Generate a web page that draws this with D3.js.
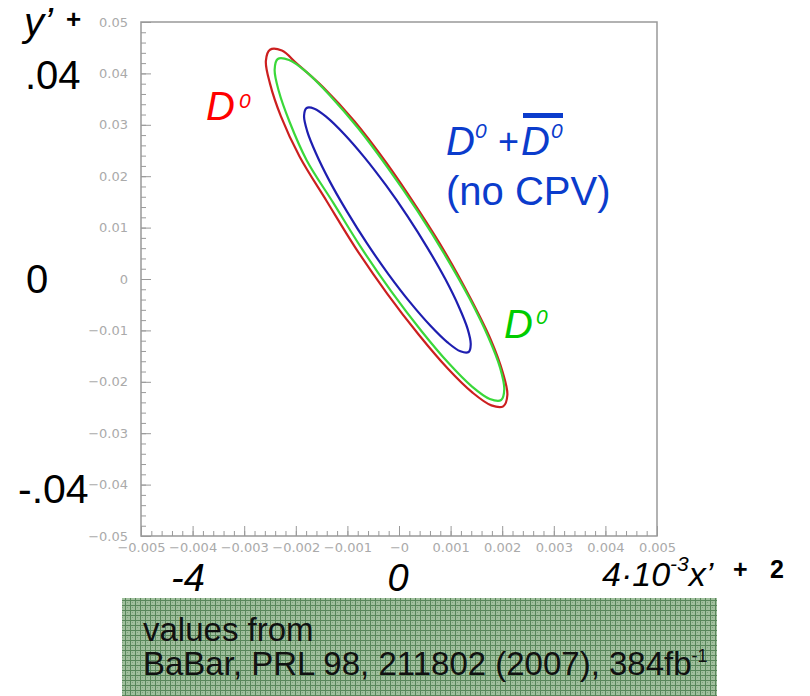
<!DOCTYPE html>
<html lang="en">
<head>
<meta charset="UTF-8">
<title>y' vs x'^2 contours</title>
<script src="https://cdn.jsdelivr.net/npm/d3@7"></script>
<style>
  body, html { margin: 0; padding: 0; background: #fff; }
  .tick text { font-family: "DejaVu Sans", sans-serif; font-size: 13px; fill: #aaa; }
  .tick line { stroke: #999; }
  .big { font-family: "Liberation Sans", Arial, sans-serif; }
</style>
</head>
<body>
<div id="chart"></div>
<script>
// contour points (x'^2, y'), going round each curve
const redX = [0.00202, 0.00210, 0.00201, 0.00178, 0.00140, 0.00092, 0.00035, -0.00025,
              -0.00086, -0.00146, -0.00198, -0.00227, -0.00250, -0.00258, -0.00250, -0.00229,
              -0.00193, -0.00140, -0.00084, -0.00023, 0.00038, 0.00094, 0.00142, 0.00179];
const redY = [-0.02477, -0.02257, -0.01817, -0.01185, -0.00404, 0.00472, 0.01383, 0.02267,
              0.03065, 0.03721, 0.04192, 0.04444, 0.04461, 0.04242, 0.03801, 0.03169,
              0.02389, 0.01513, 0.00602, -0.00283, -0.01080, -0.01737, -0.02207, -0.02459];

const greenX = [0.00198, 0.00204, 0.00196, 0.00173, 0.00137, 0.00090, 0.00036, -0.00022,
                -0.00079, -0.00133, -0.00178, -0.00213, -0.00235, -0.00241, -0.00233, -0.00212,
                -0.00179, -0.00127, -0.00073, -0.00015, 0.00043, 0.00096, 0.00141, 0.00176];
const greenY = [-0.02354, -0.02148, -0.01730, -0.01129, -0.00385, 0.00451, 0.01321, 0.02168,
                0.02932, 0.03562, 0.04015, 0.04260, 0.04280, 0.04074, 0.03657, 0.03055,
                0.02312, 0.01476, 0.00605, -0.00241, -0.01006, -0.01636, -0.02089, -0.02334];

const blueX = [0.00135, 0.00139, 0.00133, 0.00116, 0.00090, 0.00056, 0.00017, -0.00025,
               -0.00067, -0.00106, -0.00139, -0.00164, -0.00179, -0.00184, -0.00178, -0.00161,
               -0.00135, -0.00101, -0.00062, -0.00020, 0.00022, 0.00061, 0.00094, 0.00119];
const blueY = [-0.01420, -0.01272, -0.00971, -0.00540, -0.00007, 0.00592, 0.01215, 0.01820,
               0.02367, 0.02817, 0.03140, 0.03314, 0.03327, 0.03178, 0.02878, 0.02447,
               0.01914, 0.01315, 0.00692, 0.00087, -0.00460, -0.00910, -0.01233, -0.01407];

const xTicks = [-0.005, -0.004, -0.003, -0.002, -0.001, 0, 0.001, 0.002, 0.003, 0.004, 0.005];
const xTickLabels = ["\u22120.005", "\u22120.004", "\u22120.003", "\u22120.002", "\u22120.001", "\u22120",
                     "0.001", "0.002", "0.003", "0.004", "0.005"];
const yTicks = [0.05, 0.04, 0.03, 0.02, 0.01, 0, -0.01, -0.02, -0.03, -0.04, -0.05];
const yTickLabels = ["0.05", "0.04", "0.03", "0.02", "0.01", "0", "\u22120.01", "\u22120.02", "\u22120.03",
                     "\u22120.04", "\u22120.05"];

const contours = [
  { xs: redX, ys: redY, color: "#cc1f1f" },
  { xs: greenX, ys: greenY, color: "#3ad83a" },
  { xs: blueX, ys: blueY, color: "#1e1eb0" }
];

const W = 810, H = 696;
const svg = d3.select("#chart").append("svg").attr("width", W).attr("height", H);

const x = d3.scaleLinear().domain([-0.005, 0.005]).range([141, 657]);
const y = d3.scaleLinear().domain([-0.05, 0.05]).range([536, 22]);

// frame
svg.append("rect")
  .attr("x", x(-0.005)).attr("y", y(0.05))
  .attr("width", x(0.005) - x(-0.005)).attr("height", y(-0.05) - y(0.05))
  .attr("fill", "none").attr("stroke", "#999").attr("stroke-width", 1.5);

// minor ticks
const xMinor = d3.range(-50, 51, 2).map(d => d * 0.0001);
const yMinor = d3.range(-50, 51, 2).map(d => d * 0.001);
svg.append("g").attr("transform", `translate(0,${y(-0.05)})`)
  .call(d3.axisBottom(x).tickValues(xMinor).tickSize(-5).tickFormat(""))
  .call(g => g.select(".domain").remove());
svg.append("g").attr("transform", `translate(${x(-0.005)},0)`)
  .call(d3.axisLeft(y).tickValues(yMinor).tickSize(-5).tickFormat(""))
  .call(g => g.select(".domain").remove());

// major ticks + labels
svg.append("g").attr("transform", `translate(0,${y(-0.05)})`)
  .call(d3.axisBottom(x).tickValues(xTicks).tickSize(-10).tickPadding(7)
    .tickFormat((d, i) => xTickLabels[i]))
  .call(g => g.select(".domain").remove());
svg.append("g").attr("transform", `translate(${x(-0.005)},0)`)
  .call(d3.axisLeft(y).tickValues(yTicks).tickSize(-10).tickPadding(13)
    .tickFormat((d, i) => yTickLabels[i]))
  .call(g => g.select(".domain").remove());

// contours
const line = d3.line()
  .x(d => x(d[0])).y(d => y(d[1]))
  .curve(d3.curveCatmullRomClosed.alpha(0.5));
svg.selectAll(".contour")
  .data(contours)
  .enter().append("path")
  .attr("class", "contour")
  .attr("d", c => line(c.xs.map((v, i) => [v, c.ys[i]])))
  .attr("fill", "none")
  .attr("stroke", c => c.color)
  .attr("stroke-width", 2.2);

// big overlay axis annotations
const big = (tx, ty, str, size, opts = {}) => svg.append("text")
  .attr("class", "big").attr("x", tx).attr("y", ty)
  .attr("font-size", size)
  .attr("font-style", opts.italic ? "italic" : "normal")
  .attr("font-weight", opts.bold ? "bold" : "normal")
  .attr("text-anchor", opts.anchor || "start")
  .attr("fill", opts.color || "#000")
  .text(str);

big(24, 36, "y\u2019", 40, { italic: true });
big(66, 28, "+", 26, { bold: true });
big(25, 89, ".04", 40);
big(26, 293, "0", 40);
big(18, 503, "-.04", 41);

big(188, 591, "-4", 38, { italic: true, anchor: "middle" });
big(398, 591, "0", 38, { italic: true, anchor: "middle" });

const xl = svg.append("text").attr("class", "big").attr("x", 602).attr("y", 586)
  .attr("font-size", 34).attr("font-style", "italic").attr("fill", "#000");
xl.append("tspan").text("4\u00b710");
xl.append("tspan").attr("font-size", 21).attr("dy", -15).text("-3");
xl.append("tspan").attr("dy", 15).text("x\u2019");
big(733, 578, "+", 25, { bold: true });
big(770, 578, "2", 25, { bold: true });

// coloured labels
big(206, 120, "D", 40, { italic: true, color: "#ff0000" });
big(239, 108, "0", 21, { italic: true, color: "#ff0000" });

const blue = "#0b3ccc";
big(446, 155, "D", 40, { italic: true, color: blue });
big(475, 138, "0", 21, { italic: true, color: blue });
big(498, 154, "+", 36, { color: blue });
big(521, 155, "D", 40, { italic: true, color: blue });
big(551, 138, "0", 21, { italic: true, color: blue });
svg.append("rect").attr("x", 523).attr("y", 113).attr("width", 40).attr("height", 5).attr("fill", blue);
big(446, 205, "(no CPV)", 40, { color: blue });

big(504, 338, "D", 40, { italic: true, color: "#00cc00" });
big(536, 324, "0", 21, { italic: true, color: "#00cc00" });

// source box with textured green fill
const defs = svg.append("defs");
const pat = defs.append("pattern").attr("id", "grid")
  .attr("patternUnits", "userSpaceOnUse").attr("width", 5).attr("height", 5);
pat.append("rect").attr("width", 5).attr("height", 5).attr("fill", "#a0bf9d");
pat.append("rect").attr("width", 5).attr("height", 1).attr("fill", "#58865a");
pat.append("rect").attr("width", 1).attr("height", 5).attr("fill", "#58865a");
pat.append("rect").attr("x", 2).attr("y", 2).attr("width", 1).attr("height", 1).attr("fill", "#7ca27a");

svg.append("rect").attr("x", 122).attr("y", 598).attr("width", 595).attr("height", 98)
  .attr("fill", "url(#grid)");

big(143, 641, "values from", 33, { color: "#111" });
const src = svg.append("text").attr("class", "big").attr("x", 143).attr("y", 675)
  .attr("font-size", 33).attr("fill", "#111");
src.append("tspan").text("BaBar, PRL 98, 211802 (2007), 384fb");
src.append("tspan").attr("font-size", 18).attr("dy", -13).text("-1");
</script>
</body>
</html>
